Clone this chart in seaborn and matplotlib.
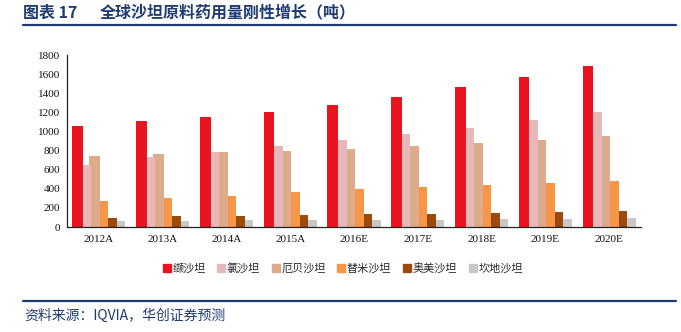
import numpy as np
import pandas as pd
import matplotlib
matplotlib.use("Agg")
import matplotlib.pyplot as plt
from matplotlib.lines import Line2D
import seaborn as sns

# Annual API consumption of sartans (tonnes)
years = ["2012A", "2013A", "2014A", "2015A", "2016E", "2017E", "2018E", "2019E", "2020E"]
drugs = ["缬沙坦", "氯沙坦", "厄贝沙坦", "替米沙坦", "奥美沙坦", "坎地沙坦"]
valsartan   = [1060, 1115, 1155, 1200, 1275, 1365, 1465, 1575, 1690]
losartan    = [650, 730, 790, 850, 910, 970, 1040, 1120, 1200]
irbesartan  = [740, 760, 785, 800, 820, 845, 885, 915, 950]
telmisartan = [270, 300, 330, 365, 395, 415, 440, 460, 485]
olmesartan  = [100, 112, 119, 127, 134, 141, 151, 162, 169]
candesartan = [60, 67, 70, 75, 75, 78, 82, 89, 92]
yticks = [0, 200, 400, 600, 800, 1000, 1200, 1400, 1600, 1800]

colors = ["#E8141E", "#E6B9B8", "#DDAA8B", "#F79646", "#9C4A0C", "#C8C8C8"]

series = [valsartan, losartan, irbesartan, telmisartan, olmesartan, candesartan]
df = pd.DataFrame({
    "year": np.repeat([years], len(drugs), axis=0).ravel(),
    "drug": np.repeat(drugs, len(years)),
    "value": np.concatenate(series),
})

sns.set_theme(style="white")
plt.rcParams["font.family"] = ["Noto Sans CJK SC", "DejaVu Sans"]

fig = plt.figure(figsize=(6.81, 3.32), dpi=100)
ax = fig.add_axes([0.0984, 0.316, 0.843, 0.518])

sns.barplot(data=df, x="year", y="value", hue="drug", order=years,
            hue_order=drugs, palette=colors, width=0.8, gap=0,
            legend=False, ax=ax, saturation=1)

# widen bars slightly so neighbours overlap; earlier series sit on top
bar_w = 0.166
for i, cont in enumerate(ax.containers):
    for p in cont.patches:
        c = p.get_x() + p.get_width() / 2
        p.set_width(bar_w)
        p.set_x(c - bar_w / 2)
        p.set_zorder(10 - i)
        p.set_edgecolor("none")

ax.set_xlim(-0.5, len(years) - 0.5)
ax.set_ylim(0, 1800)
ax.set_yticks(yticks)
ax.set_xlabel("")
ax.set_ylabel("")
for s in ["top", "right"]:
    ax.spines[s].set_visible(False)
for s in ["left", "bottom"]:
    ax.spines[s].set_color("#222222")
    ax.spines[s].set_linewidth(0.9)
    ax.spines[s].set_zorder(20)

serif = ["Liberation Serif", "DejaVu Serif"]
ax.set_yticklabels([str(v) for v in yticks], family=serif, fontsize=8)
ax.set_xticks(range(len(years)))
ax.set_xticklabels(years, family=serif, fontsize=8)
ax.tick_params(axis="x", which="major", length=0, pad=6, colors="#111111")
ax.set_xticks(np.arange(-0.5, len(years), 1.0), minor=True)
ax.tick_params(axis="x", which="minor", length=3, width=0.8, direction="out", color="#222222")
ax.tick_params(axis="y", length=3, width=0.8, direction="out", pad=2, colors="#111111", color="#222222")
ax.tick_params(axis="y", labelcolor="#111111")

navy = "#1F3B73"
fig.text(0.034, 0.962, "图表 17", fontsize=11.5,
         fontweight="bold", color=navy, va="center", ha="left")
fig.text(0.147, 0.962, "全球沙坦原料药用量刚性增长（吨）", fontsize=11.5,
         fontweight="bold", color=navy, va="center", ha="left")
fig.add_artist(Line2D([0.034, 0.992], [0.925, 0.925], color=navy, lw=1.6))
fig.add_artist(Line2D([0.034, 0.992], [0.094, 0.094], color=navy, lw=1.6))
fig.text(0.036, 0.05, "资料来源：IQVIA，华创证券预测", fontsize=10, color=navy,
         va="center", ha="left", style="italic")

handles = [Line2D([], [], marker="s", linestyle="none", markersize=6,
                  markerfacecolor=c, markeredgecolor=c) for c in colors]
fig.legend(handles, drugs, loc="center", bbox_to_anchor=(0.503, 0.193), ncol=6,
           frameon=False, fontsize=8, handletextpad=0.1, columnspacing=1.0,
           handlelength=0.8)

fig.savefig("out.png", dpi=100)
